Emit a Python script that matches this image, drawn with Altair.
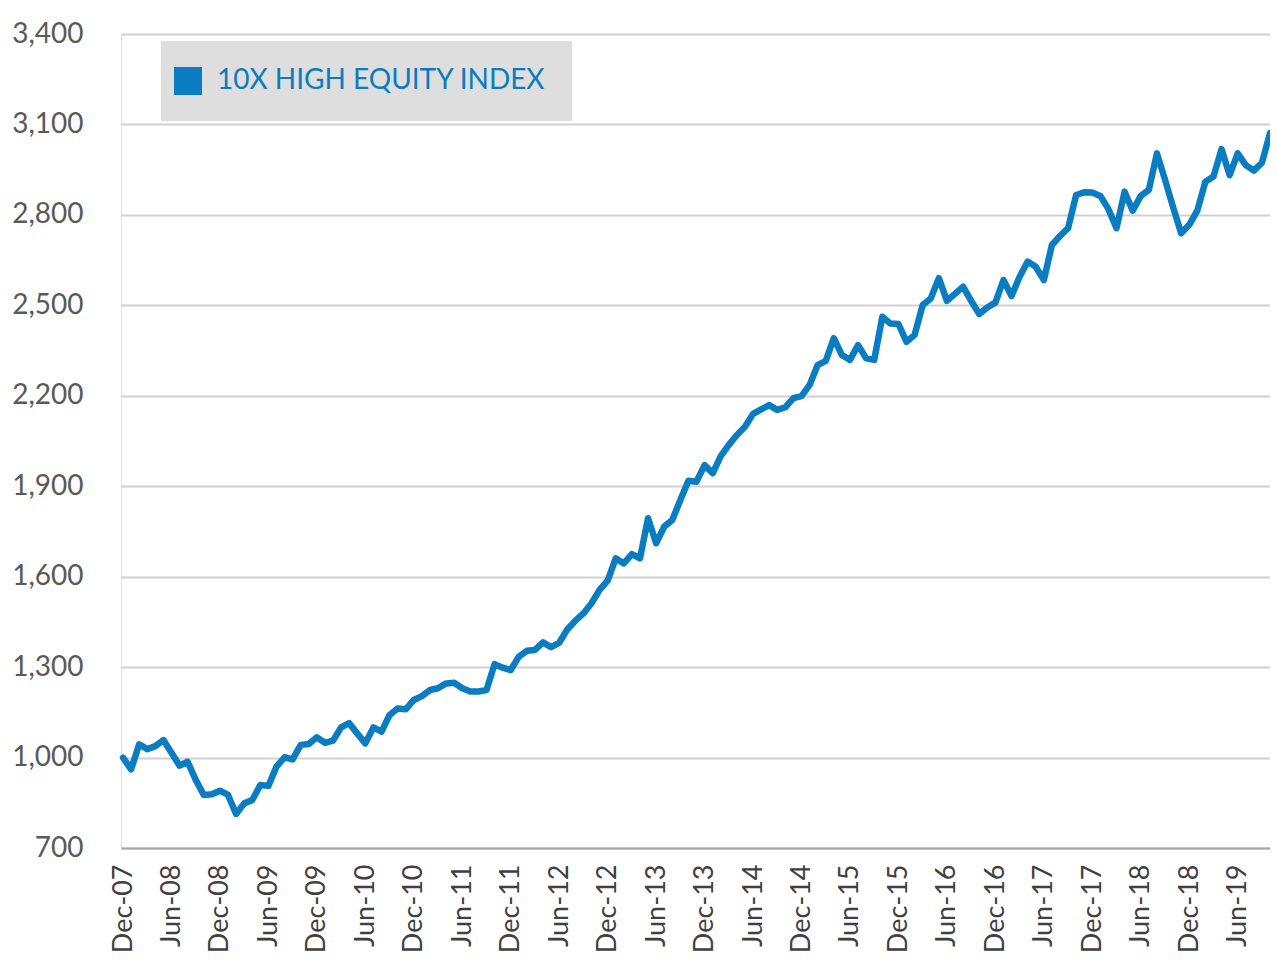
import altair as alt
import pandas as pd

SERIES_NAME = "10X HIGH EQUITY INDEX"

TICK_LABELS = [
    "Dec-07", "Jun-08", "Dec-08", "Jun-09", "Dec-09", "Jun-10", "Dec-10", "Jun-11",
    "Dec-11", "Jun-12", "Dec-12", "Jun-13", "Dec-13", "Jun-14", "Dec-14", "Jun-15",
    "Dec-15", "Jun-16", "Dec-16", "Jun-17", "Dec-17", "Jun-18", "Dec-18", "Jun-19",
]

Y_TICKS = [700, 1000, 1300, 1600, 1900, 2200, 2500, 2800, 3100, 3400]

# monthly index values, Dec-07 .. Oct-19
VALUES = [
    1000, 961, 1044, 1028, 1038, 1058, 1016, 973, 986, 926, 876, 878,
    890, 876, 813, 848, 859, 909, 906, 970, 1001, 994, 1042, 1045,
    1067, 1049, 1056, 1100, 1114, 1080, 1047, 1100, 1086, 1141, 1163, 1160,
    1191, 1204, 1224, 1230, 1246, 1248, 1230, 1219, 1219, 1224, 1310, 1298,
    1290, 1335, 1354, 1357, 1382, 1366, 1381, 1425, 1454, 1478, 1512, 1556,
    1587, 1661, 1644, 1675, 1661, 1794, 1711, 1766, 1788, 1854, 1918, 1915,
    1970, 1943, 2000, 2037, 2070, 2097, 2140, 2155, 2169, 2153, 2162, 2192,
    2199, 2236, 2302, 2316, 2391, 2335, 2319, 2368, 2324, 2319, 2462, 2440,
    2438, 2379, 2402, 2501, 2523, 2590, 2515, 2538, 2562, 2515, 2471, 2493,
    2509, 2584, 2531, 2595, 2645, 2628, 2584, 2700, 2730, 2756, 2866, 2875,
    2874, 2863, 2819, 2756, 2877, 2814, 2863, 2883, 3004, 2917, 2826, 2739,
    2767, 2814, 2910, 2927, 3018, 2932, 3004, 2965, 2947, 2973, 3071,
]

BLUE = "#0a7cc1"
FONT = "Lato"

df = pd.DataFrame({
    "month": list(range(len(VALUES))),
    "value": VALUES,
    "series": [SERIES_NAME] * len(VALUES),
})

label_array = "[" + ",".join("'%s'" % t for t in TICK_LABELS) + "]"
tick_positions = [6 * k for k in range(len(TICK_LABELS))]

chart = alt.Chart(df).mark_line(strokeWidth=6.5, strokeJoin="round", strokeCap="round").encode(
    x=alt.X(
        "month:Q",
        scale=alt.Scale(domain=[-0.25, len(VALUES) - 1], nice=False, zero=False),
        axis=alt.Axis(
            values=tick_positions,
            labelExpr=label_array + "[round(datum.value/6)]",
            labelAngle=-90,
            labelAlign="right",
            labelBaseline="middle",
            labelPadding=16,
            labelFontSize=27,
            labelColor="#404040",
            labelFont=FONT,
            ticks=False,
            grid=False,
            domain=True,
            domainColor="#a6a6a6",
            domainWidth=2,
            title=None,
            labelOverlap=False,
        ),
    ),
    y=alt.Y(
        "value:Q",
        scale=alt.Scale(domain=[700, 3400], nice=False, zero=False),
        axis=alt.Axis(
            values=Y_TICKS,
            format=",d",
            labelFontSize=28,
            labelColor="#595959",
            labelFont=FONT,
            labelPadding=38,
            ticks=False,
            domain=False,
            grid=True,
            gridColor="#d0d0d0",
            gridWidth=2,
            title=None,
        ),
    ),
    color=alt.Color(
        "series:N",
        scale=alt.Scale(domain=[SERIES_NAME], range=[BLUE]),
        legend=alt.Legend(
            title=None,
            orient="none",
            legendX=40,
            legendY=7,
            fillColor="#dedede",
            padding=26,
            symbolType="square",
            symbolSize=784,
            symbolFillColor=BLUE,
            symbolStrokeWidth=0,
            symbolOffset=-13,
            labelOffset=15,
            labelFontSize=28,
            labelFont=FONT,
            labelColor=BLUE,
            labelLimit=800,
        ),
    ),
).properties(
    width=1149,
    height=814,
    autosize=alt.AutoSizeParams(type="none"),
    padding={"left": 113, "top": 26, "right": 0, "bottom": 104},
).configure_view(stroke=None).configure(background="white")

chart.save("out.html", embed_options={"renderer": "svg", "actions": False})
